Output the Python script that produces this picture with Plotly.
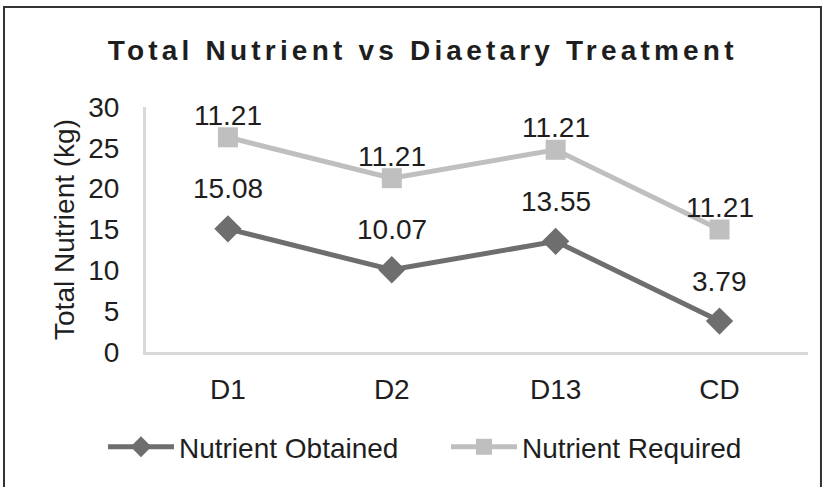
import plotly.graph_objects as go

categories = ["D1", "D2", "D13", "CD"]
obtained = [15.08, 10.07, 13.55, 3.79]
required = [11.21, 11.21, 11.21, 11.21]
y_ticks = [0, 5, 10, 15, 20, 25, 30]

stacked_required = [o + r for o, r in zip(obtained, required)]

FONT = "Liberation Sans, Arial, sans-serif"
TXT = "#1e1e1e"
dark = "#6e6e6e"
light = "#bfbfbf"
FS = 28

fig = go.Figure()
fig.add_trace(go.Scatter(
    x=categories, y=obtained, name="Nutrient Obtained", mode="lines+markers",
    line=dict(color=dark, width=5),
    marker=dict(symbol="diamond", size=21, color=dark),
))
fig.add_trace(go.Scatter(
    x=categories, y=stacked_required, name="Nutrient Required", mode="lines+markers",
    line=dict(color=light, width=5),
    marker=dict(symbol="square", size=20, color=light),
))

annotations = []
for c, v in zip(categories, obtained):
    annotations.append(dict(x=c, y=v, text=f"{v:.2f}", showarrow=False,
                            yshift=40, font=dict(size=FS, color=TXT, family=FONT)))
for c, v, r in zip(categories, stacked_required, required):
    annotations.append(dict(x=c, y=v, text=f"{r:.2f}", showarrow=False,
                            yshift=22, font=dict(size=FS, color=TXT, family=FONT)))

fig.update_layout(
    width=824, height=487,
    paper_bgcolor="white", plot_bgcolor="white",
    margin=dict(l=146, r=16, t=107, b=135, autoexpand=False),
    font=dict(family=FONT, size=FS, color=TXT),
    title=dict(text="<b>Total Nutrient vs Diaetary Treatment</b>",
               x=0.513, xanchor="center", y=0.897, yanchor="middle",
               font=dict(size=FS, family=FONT, color=TXT)),
    showlegend=True,
    legend=dict(orientation="h", x=-0.065, xanchor="left", y=-0.388, yanchor="middle",
                font=dict(size=FS, family=FONT, color=TXT),
                itemwidth=66, entrywidth=262, entrywidthmode="pixels",
                tracegroupgap=0, itemsizing="trace"),
    annotations=annotations,
    shapes=[dict(type="rect", xref="paper", yref="paper",
                 x0=-0.2145, x1=1.0196, y0=-0.563, y1=1.408,
                 line=dict(color="#333333", width=2), fillcolor="rgba(0,0,0,0)")],
)
fig.update_xaxes(
    type="category", range=[-0.5, 3.54],
    showline=True, linecolor="#d9d9d9", linewidth=3,
    showgrid=False, zeroline=False,
    ticks="outside", ticklen=10, tickcolor="rgba(0,0,0,0)",
    tickfont=dict(size=FS, family=FONT, color=TXT),
)
fig.update_yaxes(
    range=[0, 30], tickvals=y_ticks,
    showline=True, linecolor="#d9d9d9", linewidth=3,
    showgrid=False, zeroline=False,
    ticks="outside", ticklen=18, tickcolor="rgba(0,0,0,0)",
    tickfont=dict(size=FS, family=FONT, color=TXT),
    title=dict(text="Total Nutrient (kg)", standoff=6,
               font=dict(size=FS, family=FONT, color=TXT)),
)

post = (
    "document.body.style.margin='0';"
    "document.querySelectorAll('.gtitle').forEach(function(e){e.style.letterSpacing='4.2px';});"
)
fig.write_html("out.html", post_script=post, config={"displayModeBar": False})
